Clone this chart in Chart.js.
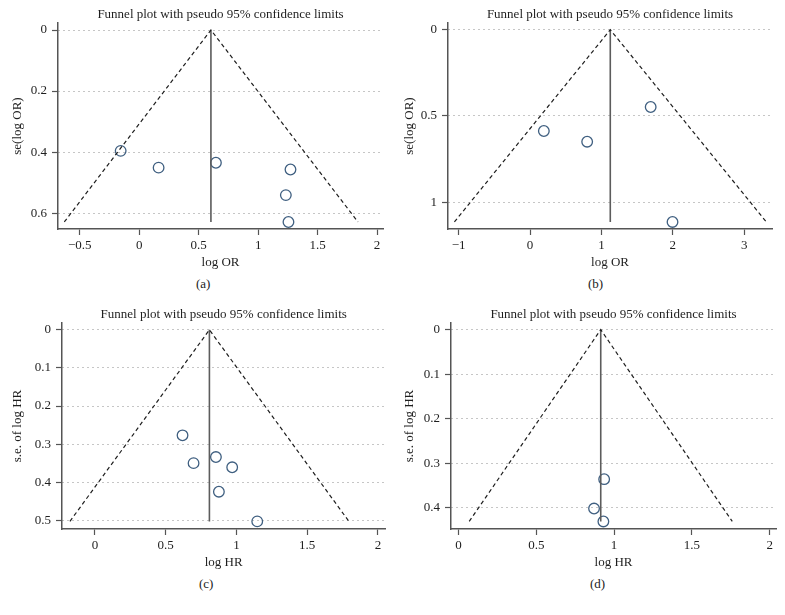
<!DOCTYPE html>
<html lang="en">
<head>
  <meta charset="UTF-8">
  <title>Funnel plots</title>
  <style>
    body {
      margin: 0;
      background: #ffffff;
      font-family: "Liberation Serif", "DejaVu Serif", serif;
    }
    .panel {
      position: absolute;
      width: 392px;
      height: 300px;
    }
    .panel canvas {
      position: absolute;
      left: 0;
      top: 0;
    }
    .caption {
      position: absolute;
      top: 276px;
      font-size: 13px;
      color: #222;
    }
  </style>
</head>
<body>

  <div class="panel" style="left:0;top:0">
    <canvas id="chartA" width="392" height="275"></canvas>
    <div class="caption" style="left:196px">(a)</div>
  </div>
  <div class="panel" style="left:392px;top:0">
    <canvas id="chartB" width="392" height="275"></canvas>
    <div class="caption" style="left:196px">(b)</div>
  </div>
  <div class="panel" style="left:0;top:300px">
    <canvas id="chartC" width="392" height="275"></canvas>
    <div class="caption" style="left:199px">(c)</div>
  </div>
  <div class="panel" style="left:392px;top:300px">
    <canvas id="chartD" width="392" height="275"></canvas>
    <div class="caption" style="left:198px">(d)</div>
  </div>

  <script src="https://cdn.jsdelivr.net/npm/chart.js"></script>

  <script>
    // (a) studies: log OR vs se(log OR)
    const logOrA = [-0.156, 0.163, 0.645, 1.272, 1.233, 1.255];
    const seA = [0.396, 0.451, 0.435, 0.457, 0.541, 0.629];
    const pooledA = 0.603;
    const funnelXA = [-0.63, 0.603, 1.84];
    const funnelYA = [0.629, 0, 0.629];
    const xTicksA = [-0.5, 0, 0.5, 1, 1.5, 2];
    const yTicksA = [0, 0.2, 0.4, 0.6];

    // (b)
    const logOrB = [0.193, 0.80, 1.69, 1.996];
    const seB = [0.587, 0.649, 0.448, 1.114];
    const pooledB = 1.124;
    const funnelXB = [-1.06, 1.124, 3.31];
    const funnelYB = [1.114, 0, 1.114];
    const xTicksB = [-1, 0, 1, 2, 3];
    const yTicksB = [0, 0.5, 1];

    // (c) log HR vs s.e. of log HR
    const logHrC = [0.619, 0.697, 0.855, 0.97, 0.876, 1.147];
    const seC = [0.277, 0.350, 0.334, 0.361, 0.425, 0.503];
    const pooledC = 0.809;
    const funnelXC = [-0.177, 0.809, 1.795];
    const funnelYC = [0.503, 0, 0.503];
    const xTicksC = [0, 0.5, 1, 1.5, 2];
    const yTicksC = [0, 0.1, 0.2, 0.3, 0.4, 0.5];

    // (d)
    const logHrD = [0.936, 0.871, 0.931];
    const seD = [0.336, 0.402, 0.431];
    const pooledD = 0.914;
    const funnelXD = [0.069, 0.914, 1.759];
    const funnelYD = [0.431, 0, 0.431];
    const xTicksD = [0, 0.5, 1, 1.5, 2];
    const yTicksD = [0, 0.1, 0.2, 0.3, 0.4];

    const titleText = "Funnel plot with pseudo 95% confidence limits";
    const serif = "'Liberation Serif', 'DejaVu Serif', serif";

    function fmt(v) {
      return v < 0 ? "\u2212" + Math.abs(v) : String(v);
    }

    function funnelChart(id, xs, ys, pooled, fx, fy, xTicks, yTicks, xRange, yRange, xTitle, yTitle, yAxisWidth, rightPad) {
      const maxSe = fy[0];
      new Chart(document.getElementById(id), {
        type: "scatter",
        data: {
          datasets: [
            {
              data: fx.map((x, i) => ({ x: x, y: fy[i] })),
              showLine: true,
              borderColor: "#1e1e1e",
              borderWidth: 1.2,
              borderDash: [4, 3],
              pointRadius: 0,
              fill: false
            },
            {
              data: [{ x: pooled, y: 0 }, { x: pooled, y: maxSe }],
              showLine: true,
              borderColor: "#5c5c5c",
              borderWidth: 1.6,
              pointRadius: 0,
              fill: false
            },
            {
              data: xs.map((x, i) => ({ x: x, y: ys[i] })),
              pointStyle: "circle",
              pointRadius: 5.3,
              pointBorderWidth: 1.3,
              pointBorderColor: "#3f5f80",
              pointBackgroundColor: "rgba(255,255,255,0)"
            }
          ]
        },
        options: {
          responsive: false,
          animation: false,
          layout: { padding: { left: 0, right: rightPad, top: 0, bottom: 0 } },
          plugins: {
            legend: { display: false },
            tooltip: { enabled: false },
            title: {
              display: true,
              text: titleText,
              fullSize: false,
              color: "#1e1e1e",
              font: { family: serif, size: 13, weight: "normal" },
              padding: { top: 6.4, bottom: 1 }
            }
          },
          scales: {
            x: {
              type: "linear",
              min: xRange[0],
              max: xRange[1],
              afterBuildTicks: s => { s.ticks = xTicks.map(v => ({ value: v })); },
              afterFit: s => { s.height = 46; },
              ticks: {
                callback: v => fmt(v),
                color: "#1e1e1e",
                font: { family: serif, size: 13 },
                padding: 3,
                maxRotation: 0,
                autoSkip: false
              },
              grid: { drawOnChartArea: false, drawTicks: true, tickLength: 6, tickColor: "#555555", tickWidth: 1.2 },
              border: { display: true, color: "#555555", width: 1.5 },
              title: {
                display: true,
                text: xTitle,
                color: "#1e1e1e",
                font: { family: serif, size: 13 },
                padding: { top: 0, bottom: 5 }
              }
            },
            y: {
              type: "linear",
              reverse: true,
              min: yRange[0],
              max: yRange[1],
              afterBuildTicks: s => { s.ticks = yTicks.map(v => ({ value: v })); },
              afterFit: s => { s.width = yAxisWidth; },
              ticks: {
                callback: v => fmt(v),
                color: "#1e1e1e",
                font: { family: serif, size: 13 },
                padding: 5,
                autoSkip: false
              },
              grid: {
                drawOnChartArea: true,
                color: "#8c8c8c",
                lineWidth: 1,
                drawTicks: true,
                tickLength: 6,
                tickColor: "#555555",
                tickWidth: 1.2,
                tickBorderDash: []
              },
              border: { display: true, color: "#555555", width: 1.5, dash: [1, 4] },
              title: {
                display: true,
                text: yTitle,
                color: "#1e1e1e",
                font: { family: serif, size: 13 },
                padding: { top: 10, bottom: 0 }
              }
            }
          }
        }
      });
    }

    funnelChart("chartA", logOrA, seA, pooledA, funnelXA, funnelYA, xTicksA, yTicksA,
      [-0.683, 2.05], [-0.023, 0.652], "log OR", "se(log OR)", 58, 9);
    funnelChart("chartB", logOrB, seB, pooledB, funnelXB, funnelYB, xTicksB, yTicksB,
      [-1.15, 3.39], [-0.039, 1.155], "log OR", "se(log OR)", 56, 12);
    funnelChart("chartC", logHrC, seC, pooledC, funnelXC, funnelYC, xTicksC, yTicksC,
      [-0.233, 2.053], [-0.018, 0.523], "log HR", "s.e. of log HR", 62, 4);
    funnelChart("chartD", logHrD, seD, pooledD, funnelXD, funnelYD, xTicksD, yTicksD,
      [-0.048, 2.04], [-0.015, 0.448], "log HR", "s.e. of log HR", 59, 8);
  </script>

</body>
</html>
